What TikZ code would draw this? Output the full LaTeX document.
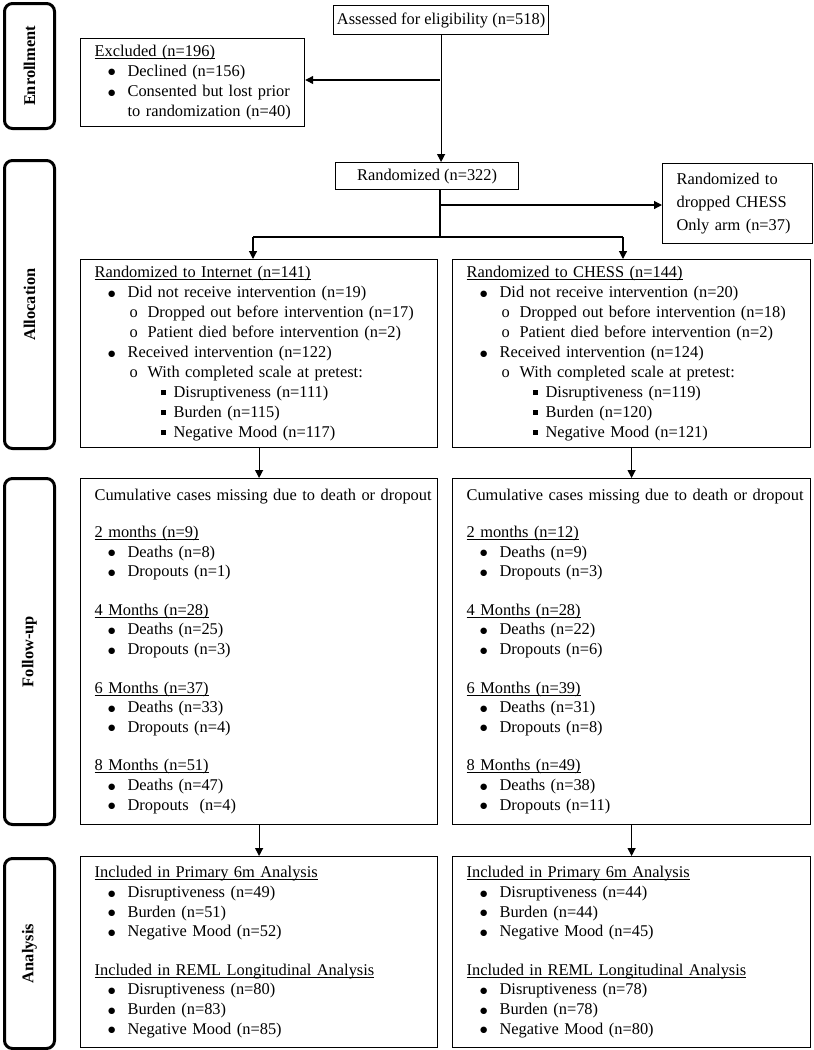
\documentclass[tikz,border=0pt]{standalone}
\usepackage{fontspec}
\setmainfont{Liberation Serif}
\newfontfamily\symfont{DejaVu Sans}
\usetikzlibrary{arrows.meta}
\newsavebox\ulbox
\newcommand{\ulx}[1]{\leavevmode\sbox\ulbox{#1}\rlap{\rule[-2.4pt]{\wd\ulbox}{0.9pt}}\usebox\ulbox}
\newcommand{\bigbul}{\raisebox{1.4pt}{\fontsize{8.4}{8.4}\selectfont\symfont ●}}
\newcommand{\lone}[1]{\leavevmode\mbox{\hspace*{13.4pt}\makebox[19.6pt][l]{\bigbul}#1}}
\newcommand{\lcont}[1]{\leavevmode\mbox{\hspace*{33pt}#1}}
\newcommand{\ltwo}[1]{\leavevmode\mbox{\hspace*{35pt}\makebox[18pt][l]{o}#1}}
\newcommand{\lthree}[1]{\leavevmode\mbox{\hspace*{66.7pt}\makebox[12.3pt][l]{\rule[2.3pt]{4.8pt}{4.8pt}}#1}}
\begin{document}
\begin{tikzpicture}[x=1pt,y=-1pt,
  flowbox/.style={draw, line width=1.2pt, anchor=north west, inner sep=0pt,
    font=\fontsize{16.4}{19.6}\selectfont, align=center},
  listbox/.style={draw, line width=1.2pt, anchor=north west, inner xsep=14pt, inner ysep=0pt,
    font=\fontsize{16.4}{19.6}\selectfont, align=left},
  widebox/.style={listbox, font=\fontsize{16.4}{19.9}\selectfont},
  phasebox/.style={draw, line width=3pt, rounded corners=8pt, anchor=north west,
    minimum width=50pt, inner sep=0pt, font=\fontsize{16.4}{19.6}\selectfont\bfseries},
  arr/.style={line width=1.2pt, -{Triangle[length=8pt,width=8pt]}},
  conn/.style={line width=1.2pt}]
\useasboundingbox (0,0) rectangle (814,1050);

% phase labels
\node[phasebox, minimum height=125pt] (penr) at (3,2) {\rotatebox{90}{Enrollment}};
\node[phasebox, minimum height=288pt] (palloc) at (3,159) {\rotatebox{90}{Allocation}};
\node[phasebox, minimum height=346pt] (pfu) at (3,477) {\rotatebox{90}{Follow-up}};
\node[phasebox, minimum height=190pt] (pan) at (3,857) {\rotatebox{90}{Analysis}};

% enrollment
\node[flowbox, minimum width=215pt, minimum height=29pt] (assess) at (333,5) {Assessed for eligibility (n=518)};
\node[listbox, font=\fontsize{16.4}{20.3}\selectfont, text width=196pt, minimum height=88pt] (excl) at (80,38) {\ulx{Excluded (n=196)}\\
\lone{Declined (n=156)}\\
\lone{Consented but lost prior}\\
\lcont{to randomization (n=40)}};
\node[flowbox, minimum width=183pt, minimum height=27pt] (rand) at (335,162) {Randomized (n=322)};
\node[listbox, text width=122pt, minimum height=80pt] (drop) at (662,163) {Randomized to\\[3pt]
dropped CHESS\\[3pt]
Only arm (n=37)};

% allocation
\node[widebox, text width=329pt, minimum height=188pt] (inet) at (80,259) {\ulx{Randomized to Internet (n=141)}\\
\lone{Did not receive intervention (n=19)}\\
\ltwo{Dropped out before intervention (n=17)}\\
\ltwo{Patient died before intervention (n=2)}\\
\lone{Received intervention (n=122)}\\
\ltwo{With completed scale at pretest:}\\
\lthree{Disruptiveness (n=111)}\\
\lthree{Burden (n=115)}\\
\lthree{Negative Mood (n=117)}};
\node[widebox, text width=330pt, minimum height=188pt] (chess) at (452,259) {\ulx{Randomized to CHESS (n=144)}\\
\lone{Did not receive intervention (n=20)}\\
\ltwo{Dropped out before intervention (n=18)}\\
\ltwo{Patient died before intervention (n=2)}\\
\lone{Received intervention (n=124)}\\
\ltwo{With completed scale at pretest:}\\
\lthree{Disruptiveness (n=119)}\\
\lthree{Burden (n=120)}\\
\lthree{Negative Mood (n=121)}};

% follow-up
\node[listbox, text width=329pt, minimum height=346pt] (fu1) at (80,478) {\mbox{Cumulative cases missing due to death or dropout}\\[17pt]
\ulx{2 months (n=9)}\\
\lone{Deaths (n=8)}\\
\lone{Dropouts (n=1)}\\[19pt]
\ulx{4 Months (n=28)}\\
\lone{Deaths (n=25)}\\
\lone{Dropouts (n=3)}\\[19pt]
\ulx{6 Months (n=37)}\\
\lone{Deaths (n=33)}\\
\lone{Dropouts (n=4)}\\[19pt]
\ulx{8 Months (n=51)}\\
\lone{Deaths (n=47)}\\
\lone{Dropouts\ \ (n=4)}};
\node[listbox, text width=330pt, minimum height=346pt] (fu2) at (452,478) {\mbox{Cumulative cases missing due to death or dropout}\\[17pt]
\ulx{2 months (n=12)}\\
\lone{Deaths (n=9)}\\
\lone{Dropouts (n=3)}\\[19pt]
\ulx{4 Months (n=28)}\\
\lone{Deaths (n=22)}\\
\lone{Dropouts (n=6)}\\[19pt]
\ulx{6 Months (n=39)}\\
\lone{Deaths (n=31)}\\
\lone{Dropouts (n=8)}\\[19pt]
\ulx{8 Months (n=49)}\\
\lone{Deaths (n=38)}\\
\lone{Dropouts (n=11)}};

% analysis
\node[listbox, text width=329pt, minimum height=191pt] (an1) at (80,856) {\ulx{Included in Primary 6m Analysis}\\
\lone{Disruptiveness (n=49)}\\
\lone{Burden (n=51)}\\
\lone{Negative Mood (n=52)}\\[19pt]
\ulx{Included in REML Longitudinal Analysis}\\
\lone{Disruptiveness (n=80)}\\
\lone{Burden (n=83)}\\
\lone{Negative Mood (n=85)}};
\node[listbox, text width=330pt, minimum height=191pt] (an2) at (452,856) {\ulx{Included in Primary 6m Analysis}\\
\lone{Disruptiveness (n=44)}\\
\lone{Burden (n=44)}\\
\lone{Negative Mood (n=45)}\\[19pt]
\ulx{Included in REML Longitudinal Analysis}\\
\lone{Disruptiveness (n=78)}\\
\lone{Burden (n=78)}\\
\lone{Negative Mood (n=80)}};

% connectors
\coordinate (exfork) at (440,80);
\coordinate (dropfork) at (440,205);
\coordinate (split) at (440,237);
\coordinate (lf) at (253,237);
\coordinate (rf) at (623,237);
\draw[arr] (assess.south) -- (assess.south |- rand.north);
\draw[arr] (exfork) -- (excl.east |- exfork);
\draw[conn] (split |- rand.south) -- (split);
\draw[arr] (dropfork) -- (drop.west |- dropfork);
\draw[conn] (lf) -- (rf);
\draw[arr] (lf) -- (lf |- inet.north);
\draw[arr] (rf) -- (rf |- chess.north);
\draw[arr] (inet.south) -- (fu1.north);
\draw[arr] (chess.south) -- (fu2.north);
\draw[arr] (fu1.south) -- (an1.north);
\draw[arr] (fu2.south) -- (an2.north);
\end{tikzpicture}
\end{document}
